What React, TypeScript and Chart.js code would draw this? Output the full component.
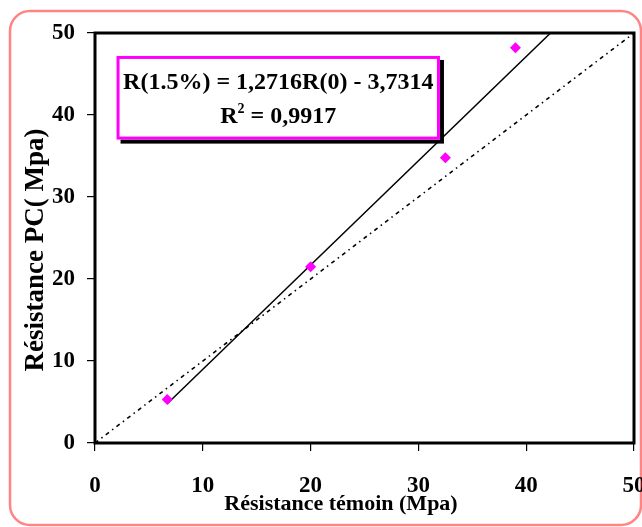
import React, { useEffect, useRef } from "react";
import { Chart, registerables } from "chart.js";

Chart.register(...registerables);

// Data
const pointsX = [6.7, 20, 32.5, 39];
const pointsY = [5.3, 21.5, 34.8, 48.2];
const trendX = [6.7, 42.26];
const trendY = [4.79, 50];
const identityX = [0, 50];
const identityY = [0, 50];
const xTicks = [0, 10, 20, 30, 40, 50];
const yTicks = [0, 10, 20, 30, 40, 50];
const equationLine1 = "R(1.5%) = 1,2716R(0) - 3,7314";
const r2Value = " = 0,9917";
const xTitle = "Résistance témoin (Mpa)";
const yTitle = "Résistance PC( Mpa)";

const SERIF = '"Liberation Serif", "Times New Roman", Times, serif';

const decorPlugin = {
  id: "decor",
  beforeDraw(chart: any) {
    const ctx = chart.ctx;
    ctx.save();
    ctx.fillStyle = "#ffffff";
    ctx.fillRect(0, 0, chart.width, chart.height);
    // outer rounded frame
    ctx.strokeStyle = "#FF8585";
    ctx.lineWidth = 2.5;
    ctx.beginPath();
    ctx.roundRect(10, 11, 631, 514, 20);
    ctx.stroke();
    ctx.restore();
  },
  afterDatasetsDraw(chart: any) {
    const ctx = chart.ctx;
    const { left, top, right, bottom } = chart.chartArea;
    const xs = chart.scales.x;
    const ys = chart.scales.y;
    ctx.save();
    // plot frame
    ctx.strokeStyle = "#000";
    ctx.lineWidth = 3;
    ctx.strokeRect(left, top, right - left, bottom - top);

    // equation box
    const bx1 = xs.getPixelForValue(2.0);
    const bx2 = xs.getPixelForValue(32.0);
    const by1 = ys.getPixelForValue(47.2);
    const by2 = ys.getPixelForValue(37.0);
    ctx.fillStyle = "#000";
    ctx.fillRect(bx1 + 4, by1 + 4, bx2 - bx1, by2 - by1);
    ctx.fillStyle = "#fff";
    ctx.fillRect(bx1, by1, bx2 - bx1, by2 - by1);
    ctx.strokeStyle = "#FF00FF";
    ctx.lineWidth = 3;
    ctx.strokeRect(bx1 + 1.5, by1 + 1.5, bx2 - bx1 - 3, by2 - by1 - 3);

    const cx = (bx1 + bx2) / 2;
    ctx.fillStyle = "#000";
    ctx.textBaseline = "alphabetic";
    ctx.font = `bold 24px ${SERIF}`;
    ctx.textAlign = "center";
    ctx.fillText(equationLine1, cx, by1 + 33);
    // second line: R² = 0,9917
    const wR = ctx.measureText("R").width;
    const wRest = ctx.measureText(r2Value).width;
    ctx.font = `bold 14px ${SERIF}`;
    const wSup = ctx.measureText("2").width;
    const total = wR + wSup + wRest;
    let sx = cx - total / 2;
    const baseY2 = by1 + 67;
    ctx.textAlign = "left";
    ctx.font = `bold 24px ${SERIF}`;
    ctx.fillText("R", sx, baseY2);
    sx += wR;
    ctx.font = `bold 14px ${SERIF}`;
    ctx.fillText("2", sx, baseY2 - 10);
    sx += wSup;
    ctx.font = `bold 24px ${SERIF}`;
    ctx.fillText(r2Value, sx, baseY2);

    // axis titles
    ctx.font = `bold 22px ${SERIF}`;
    ctx.textAlign = "center";
    ctx.fillText(xTitle, 341, 510);
    ctx.save();
    ctx.translate(43, 250);
    ctx.rotate(-Math.PI / 2);
    ctx.font = `bold 27px ${SERIF}`;
    ctx.fillText(yTitle, 0, 0);
    ctx.restore();
    ctx.restore();
  },
};

export default function App() {
  const canvasRef = useRef<HTMLCanvasElement | null>(null);

  useEffect(() => {
    document.body.style.margin = "0";
    const canvas = canvasRef.current;
    if (!canvas) return;
    const chart = new Chart(canvas, {
      type: "scatter",
      data: {
        datasets: [
          {
            label: "Points",
            data: pointsX.map((x, i) => ({ x, y: pointsY[i] })),
            pointStyle: "rectRot",
            pointRadius: 5.5,
            pointBackgroundColor: "#FF00FF",
            pointBorderColor: "#FF00FF",
            pointBorderWidth: 0,
            showLine: false,
          },
          {
            label: "Tendance",
            data: trendX.map((x, i) => ({ x, y: trendY[i] })),
            showLine: true,
            borderColor: "#000",
            borderWidth: 1.5,
            pointRadius: 0,
          },
          {
            label: "y = x",
            data: identityX.map((x, i) => ({ x, y: identityY[i] })),
            showLine: true,
            borderColor: "#000",
            borderWidth: 1.6,
            borderDash: [4, 4, 1.5, 4],
            pointRadius: 0,
          },
        ],
      },
      options: {
        responsive: false,
        animation: false,
        layout: { padding: { left: 0, top: 33, right: 8, bottom: 0 } },
        plugins: {
          legend: { display: false },
          tooltip: { enabled: false },
        },
        scales: {
          x: {
            type: "linear",
            min: 0,
            max: 50,
            afterBuildTicks: (s: any) => {
              s.ticks = xTicks.map((v) => ({ value: v }));
            },
            afterFit: (s: any) => {
              s.height = 84;
              s.paddingLeft = 0;
              s.paddingRight = 0;
            },
            grid: {
              drawOnChartArea: false,
              drawTicks: true,
              tickLength: 8,
              color: "#000",
              lineWidth: 1.2,
            },
            border: { display: false },
            ticks: {
              padding: 21,
              color: "#000",
              maxRotation: 0,
              font: { family: SERIF, size: 23, weight: "bold" },
            },
          },
          y: {
            type: "linear",
            min: 0,
            max: 50,
            afterBuildTicks: (s: any) => {
              s.ticks = yTicks.map((v) => ({ value: v }));
            },
            afterFit: (s: any) => {
              s.width = 95;
              s.paddingTop = 0;
              s.paddingBottom = 0;
            },
            grid: {
              drawOnChartArea: false,
              drawTicks: true,
              tickLength: 8,
              color: "#000",
              lineWidth: 1.2,
            },
            border: { display: false },
            ticks: {
              padding: 12,
              color: "#000",
              font: { family: SERIF, size: 23, weight: "bold" },
            },
          },
        },
      },
      plugins: [decorPlugin],
    });
    return () => chart.destroy();
  }, []);

  return (
    <div style={{ width: 642, height: 527 }}>
      <canvas ref={canvasRef} width={642} height={527} />
    </div>
  );
}
